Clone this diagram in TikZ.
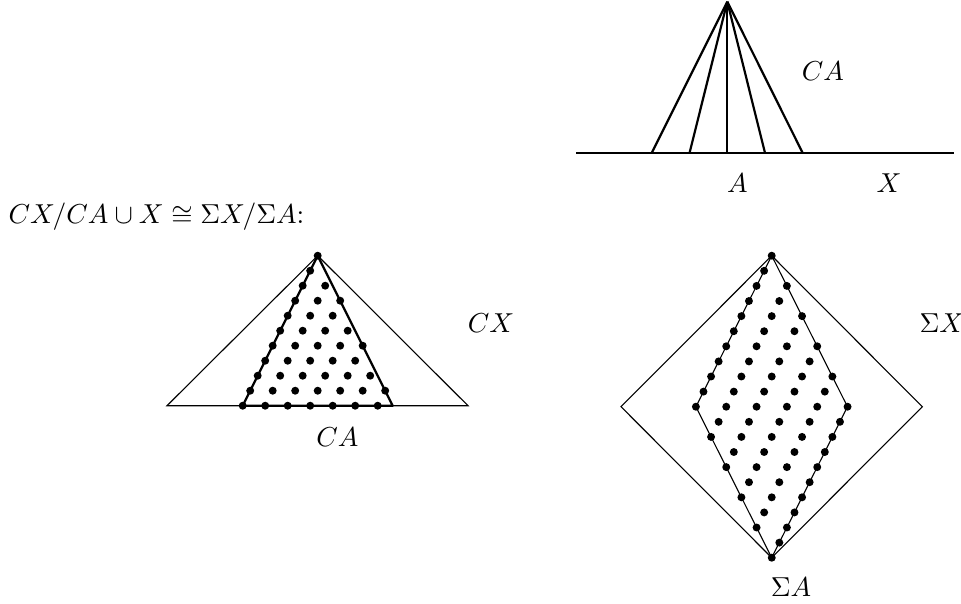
\documentclass[tikz,border=0pt]{standalone}
\begin{document}
\begin{tikzpicture}[x=0.365pt,y=-0.365pt,
  thinline/.style={line width=0.4pt},
  thickline/.style={line width=0.8pt},
  lbl/.style={inner sep=0pt}]
\useasboundingbox (0,0) rectangle (961,603);
% ---------- top: cone on A inside X ----------
\coordinate (ap) at (727.3,1.7);
\coordinate (xl) at (576,153);
\coordinate (xr) at (954,153);
\draw[thinline] (xl) -- (xr);
\foreach \x [count=\i] in {651.7,689.5,727.3,765,802.7} {
  \coordinate (b\i) at (\x,153);
  \draw[thickline] (ap) -- (b\i);
}
\draw[thickline] (b1) -- (b5);
\node[lbl] (lca1) at (823,71) {$CA$};
\node[lbl] (la) at (737.5,183) {$A$};
\node[lbl] (lx) at (889,183) {$X$};
% ---------- caption ----------
\node[lbl,anchor=west] (cap) at (8,217) {$CX/CA\cup X\cong\Sigma X/\Sigma A$:};
% ---------- left: CX with CA collapsed ----------
\coordinate (P) at (317.7,255.7);
\coordinate (ol) at (167,405.7);
\coordinate (or) at (468,405.7);
\coordinate (il) at (242.7,405.7);
\coordinate (ir) at (392.7,405.7);
\draw[thinline] (P) -- (ol) -- (or) -- cycle;
\draw[thickline,line join=round] (P) -- (il) -- (ir) -- cycle;
\foreach \k in {0,...,10} {
  \pgfmathtruncatemacro\jmax{floor(2*\k/3)}
  \foreach \j in {0,...,\jmax}
    \fill (317.7-7.5*\k+22.5*\j,255.7+15*\k) circle (1.45pt);
}
\node[lbl] (lcx) at (491,323) {$CX$};
\node[lbl] (lca2) at (337.5,437) {$CA$};
% ---------- right: Sigma X with Sigma A collapsed ----------
\coordinate (Q) at (771.7,255.7);
\coordinate (dl) at (621,406.7);
\coordinate (db) at (771.7,557.7);
\coordinate (dr) at (922.3,406.7);
\coordinate (rl) at (695.9,406.7);
\coordinate (rr) at (847.5,406.7);
\draw[thinline] (Q) -- (dl) -- (db) -- (dr) -- cycle;
\draw[thinline] (Q) -- (rl) -- (db) -- (rr) -- cycle;
\foreach \k in {0,...,20} {
  \pgfmathtruncatemacro\jmin{max(0,ceil((\k-10)/2))}
  \pgfmathtruncatemacro\jmax{min(5,floor(\k/2))}
  \foreach \j in {\jmin,...,\jmax}
    \fill (771.7-7.58*\k+30.33*\j,255.7+15.1*\k) circle (1.45pt);
}
\node[lbl] (lsx) at (942,323) {$\Sigma X$};
\node[lbl] (lsa) at (791,587) {$\Sigma A$};
\end{tikzpicture}
\end{document}
